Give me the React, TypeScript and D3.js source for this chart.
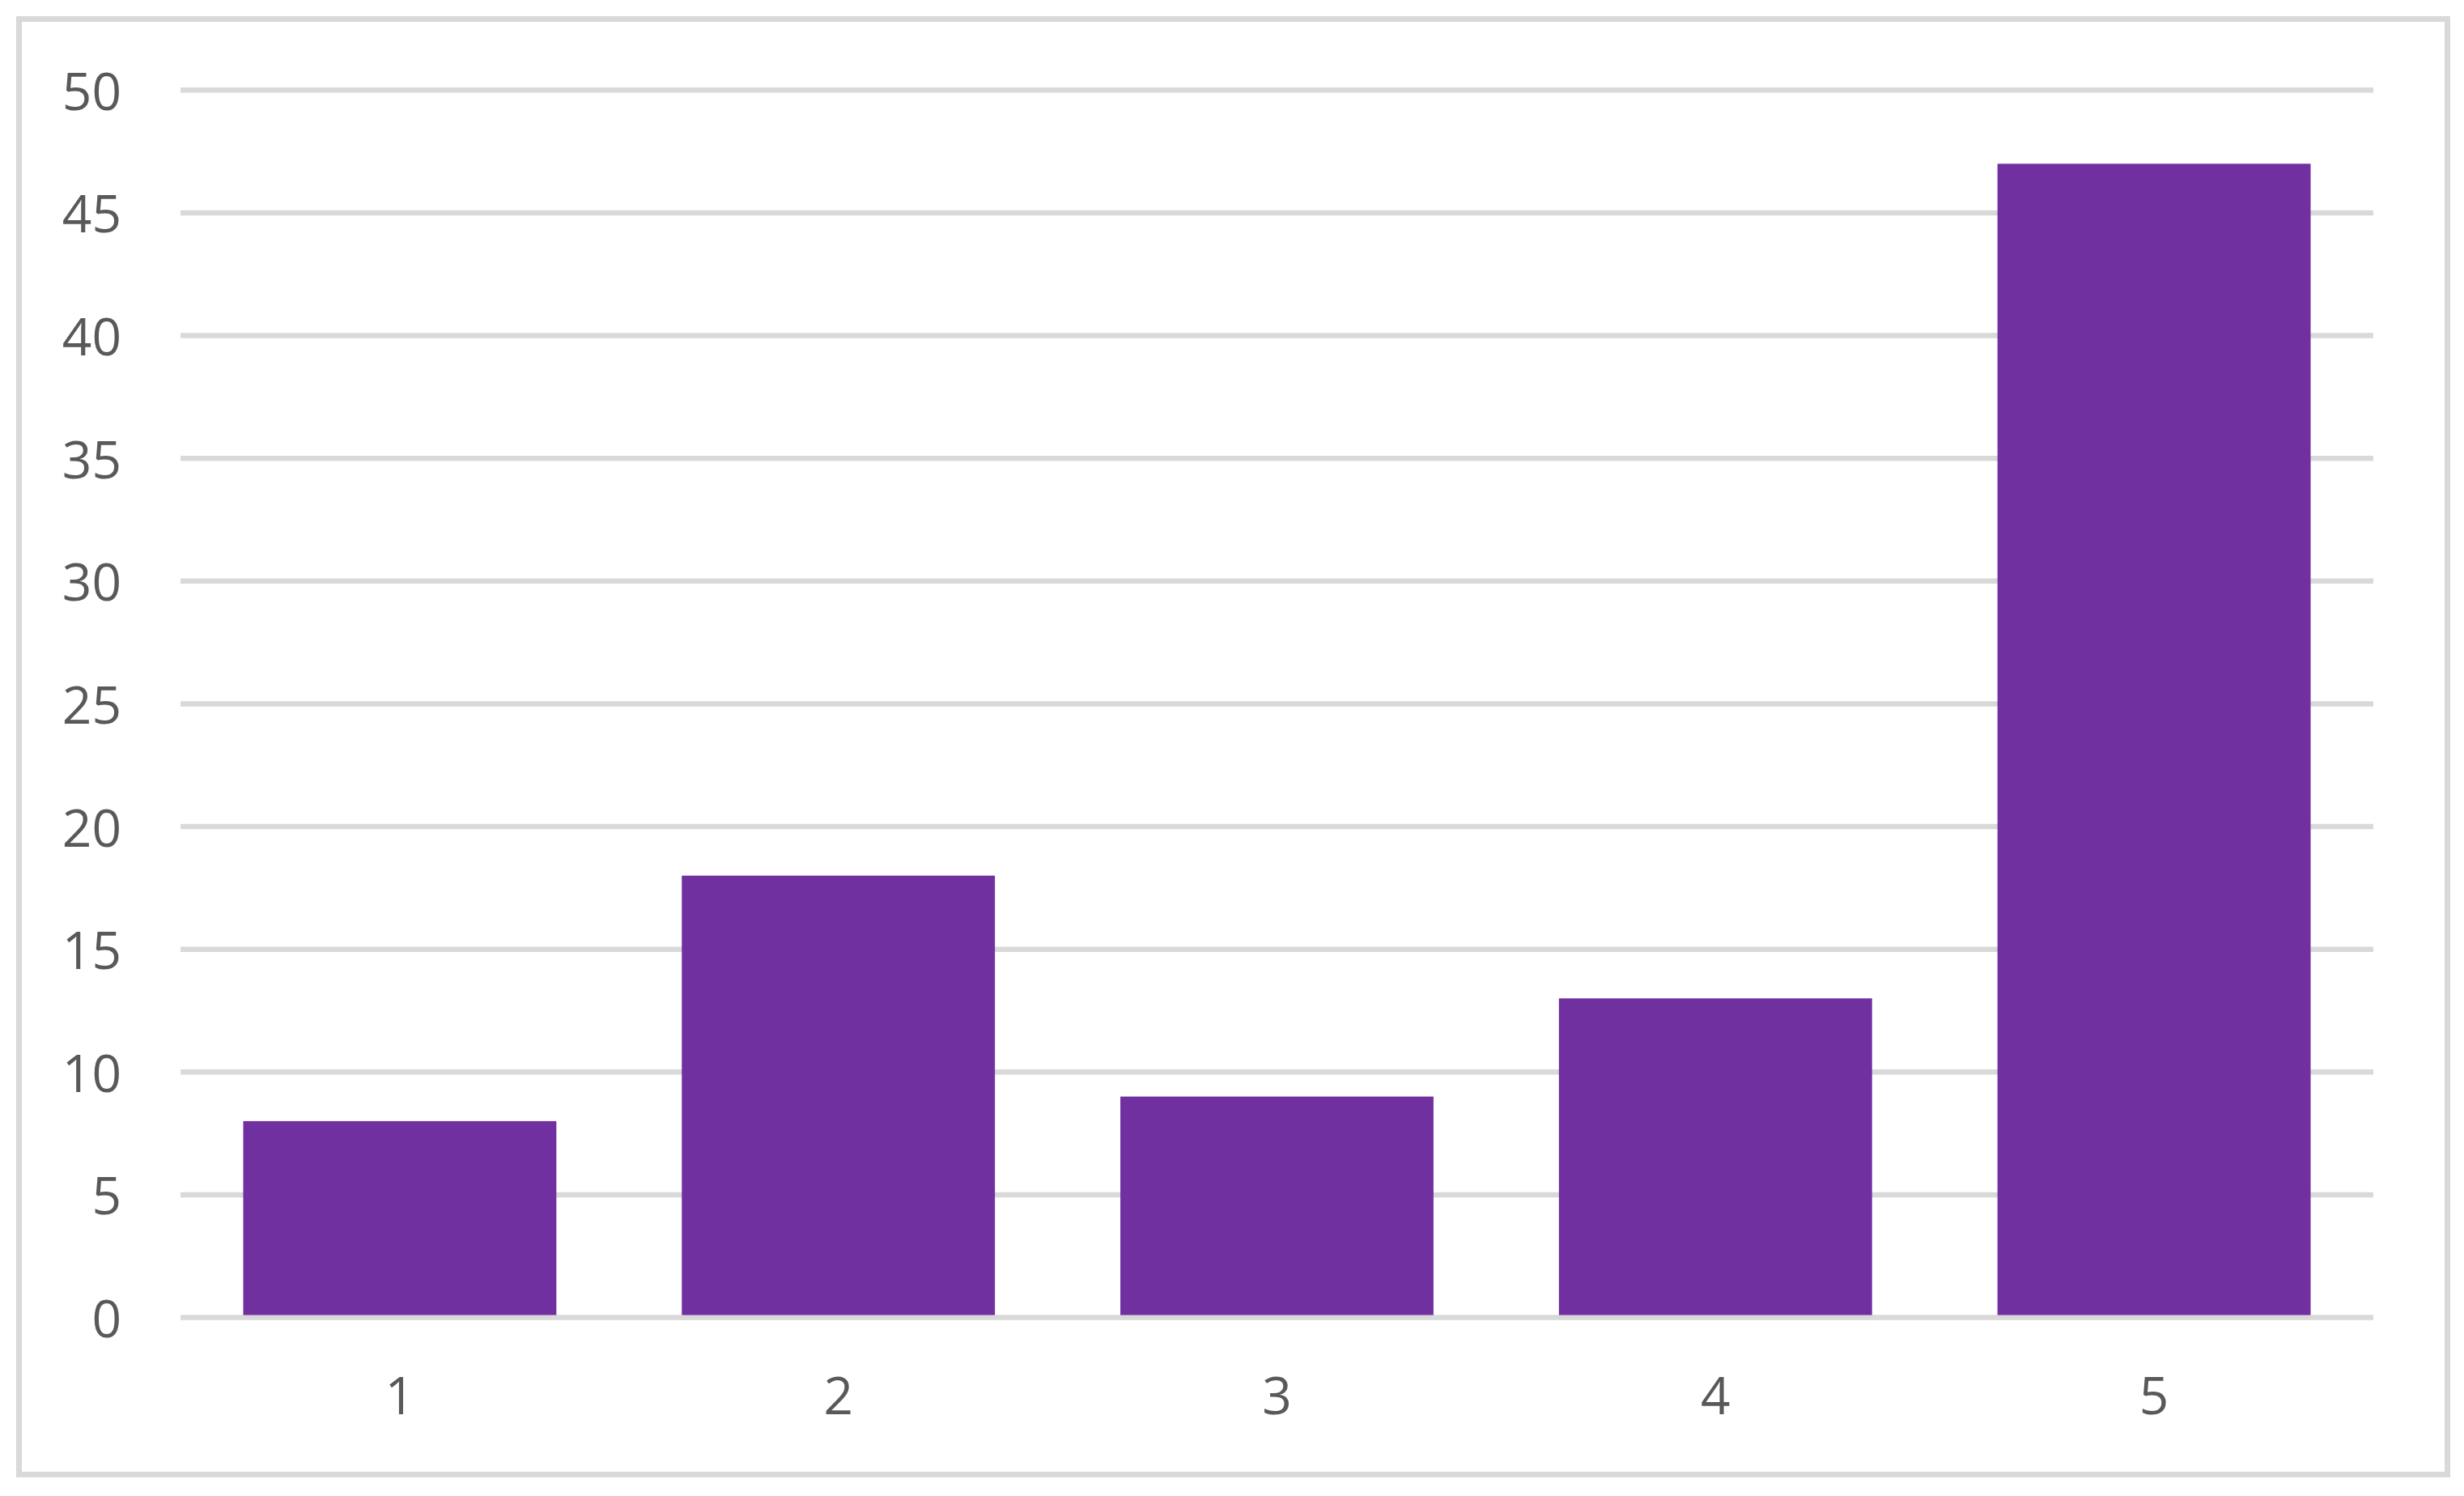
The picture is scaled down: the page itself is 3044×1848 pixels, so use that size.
import React from "react";
import * as d3 from "d3";

const categories: string[] = ["1", "2", "3", "4", "5"];
const values: number[] = [8, 18, 9, 13, 47];
const yTicks: number[] = [0, 5, 10, 15, 20, 25, 30, 35, 40, 45, 50];

const W = 3044;
const H = 1848;
const plot = { left: 223, right: 2932, top: 111.3, bottom: 1627.5 };

export default function App() {
  const x = d3
    .scaleBand<string>()
    .domain(categories)
    .range([plot.left, plot.right])
    .paddingInner(0.286)
    .paddingOuter(0.143);
  const y = d3.scaleLinear().domain([0, 50]).range([plot.bottom, plot.top]);
  const font = "'Open Sans', 'Liberation Sans', sans-serif";
  const textColor = "#595959";
  const grid = "#d9d9d9";

  return (
    <svg
      width={W}
      height={H}
      style={{ position: "absolute", left: 0, top: 0, background: "#fff" }}
    >
      <rect x={0} y={0} width={W} height={H} fill="#fff" />
      <rect
        x={23.5}
        y={23.5}
        width={3000}
        height={1798}
        fill="#fff"
        stroke={grid}
        strokeWidth={7}
      />
      {yTicks.map((t) => (
        <g key={t}>
          <line
            x1={plot.left}
            x2={plot.right}
            y1={y(t)}
            y2={y(t)}
            stroke={grid}
            strokeWidth={6.5}
          />
          <text
            x={150}
            y={y(t)}
            textAnchor="end"
            dominantBaseline="central"
            fontFamily={font}
            fontSize={64}
            fill={textColor}
          >
            {t}
          </text>
        </g>
      ))}
      {categories.map((c, i) => (
        <rect
          key={c}
          x={x(c)}
          y={y(values[i])}
          width={x.bandwidth()}
          height={y(0) - y(values[i]) - 3}
          fill="#7030a0"
        />
      ))}
      {categories.map((c) => (
        <text
          key={"l" + c}
          x={(x(c) as number) + x.bandwidth() / 2}
          y={1722}
          textAnchor="middle"
          dominantBaseline="central"
          fontFamily={font}
          fontSize={64}
          fill={textColor}
        >
          {c}
        </text>
      ))}
    </svg>
  );
}
